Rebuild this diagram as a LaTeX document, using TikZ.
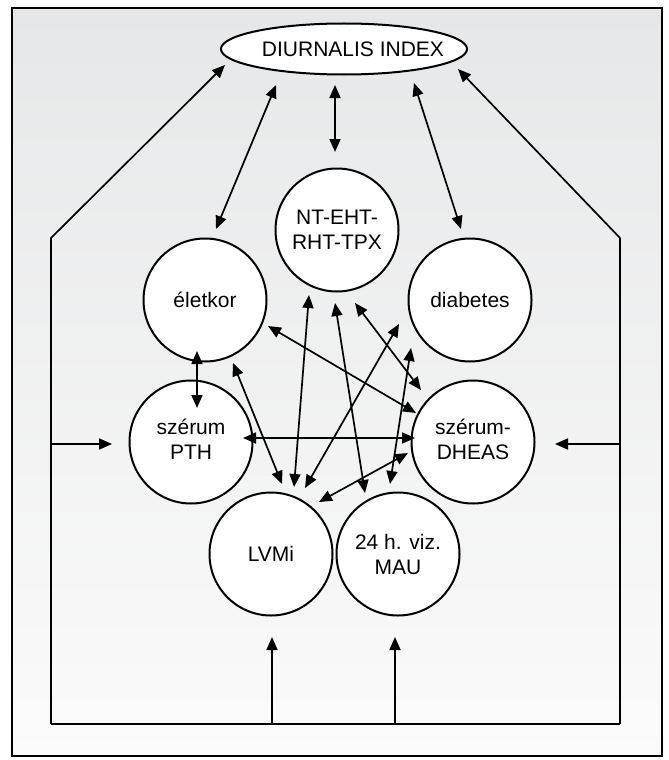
\documentclass[tikz,border=0pt]{standalone}
\usepackage{fontspec}
\setmainfont{Liberation Sans}
\usetikzlibrary{arrows.meta,shapes.geometric}
\definecolor{paneltop}{RGB}{230,231,232}
\definecolor{panelbot}{RGB}{251,251,251}
\newcommand{\lowtwo}[2]{\raisebox{-5pt}{\begin{tabular}{@{}c@{}}#1\\#2\end{tabular}}}

\begin{document}
\begin{tikzpicture}[x=1pt,y=-1pt,
    factor/.style={circle,draw,line width=2pt,fill=white,minimum size=123pt,
      inner sep=0pt,align=center,font=\fontsize{21}{25}\selectfont},
    dbl/.style={{Triangle[length=13pt,width=11pt]}-{Triangle[length=13pt,width=11pt]},line width=1.7pt},
    one/.style={-{Triangle[length=13pt,width=11pt]},line width=1.7pt}]
        \useasboundingbox (0,0) rectangle (669,760);
        \shade[top color=paneltop,bottom color=panelbot] (12,8) rectangle (662,756);
        \draw[line width=2pt] (12,8) rectangle (662,756);
        % index and the seven factors
        \node[ellipse,draw,line width=2pt,fill=white,minimum height=51pt,
          inner xsep=-13pt,inner ysep=0pt,font=\fontsize{21}{25}\selectfont]
          (di) at (344,49) {\hspace*{18pt}DIURNALIS INDEX};
        \node[factor] (nt) at (337,230) {NT-EHT-\\RHT-TPX};
        \node[factor] (el) at (205,300) {életkor};
        \node[factor] (diab) at (470,300) {diabetes};
        \node[factor] (pth) at (191,442) {\lowtwo{szérum}{PTH}};
        \node[factor] (dh) at (473,442) {\lowtwo{szérum-}{DHEAS}};
        \node[factor] (lv) at (271,554) {LVMi};
        \node[factor] (mau) at (398,554) {24 h. viz.\\MAU};
        % links to the index
        \draw[dbl] ([shift={(-68,36)}]di.center) -- ([shift={(11,-71)}]el.center);
        \draw[dbl] ([shift={(-9,36)}]di.center) -- ([shift={(-2,-78)}]nt.center);
        \draw[dbl] ([shift={(70,34)}]di.center) -- ([shift={(-9,-71)}]diab.center);
        % links between the factors
        \foreach \a/\ax/\ay/\b/\bx/\by in {el/-8/51/pth/6/-34, el/28/63/lv/11/-70,
            nt/-28/65/lv/23/-67, diab/-71/24/lv/34/-66, dh/-65/11/lv/48/-52,
            pth/52/-4/dh/-58/-4, el/63/26/dh/-57/-29, nt/-2/73/mau/-33/-61,
            nt/18/73/dh/-52/-52, diab/-59/48/mau/-8/-70}
          \draw[dbl] ([shift={(\ax,\ay)}]\a.center) -- ([shift={(\bx,\by)}]\b.center);
        % outer loop
        \coordinate (lt) at (51,238);
        \coordinate (lb) at (51,724);
        \coordinate (rb) at (620,724);
        \coordinate (rt) at (620,238);
        \draw[one] (lb) -- (lt) -- ([shift={(-119,16)}]di.center);
        \draw[one] (rb) -- (rt) -- ([shift={(114,20)}]di.center);
        \draw[line width=1.7pt] (lb) -- (rb);
        \draw[one] ([shift={(-140,2)}]pth.center) -- ([shift={(-79,2)}]pth.center);
        \draw[one] ([shift={(147,2)}]dh.center) -- ([shift={(82,2)}]dh.center);
        \draw[one] ([shift={(1,170)}]lv.center) -- ([shift={(1,83)}]lv.center);
        \draw[one] ([shift={(-3,170)}]mau.center) -- ([shift={(-3,83)}]mau.center);
\end{tikzpicture}
\end{document}
